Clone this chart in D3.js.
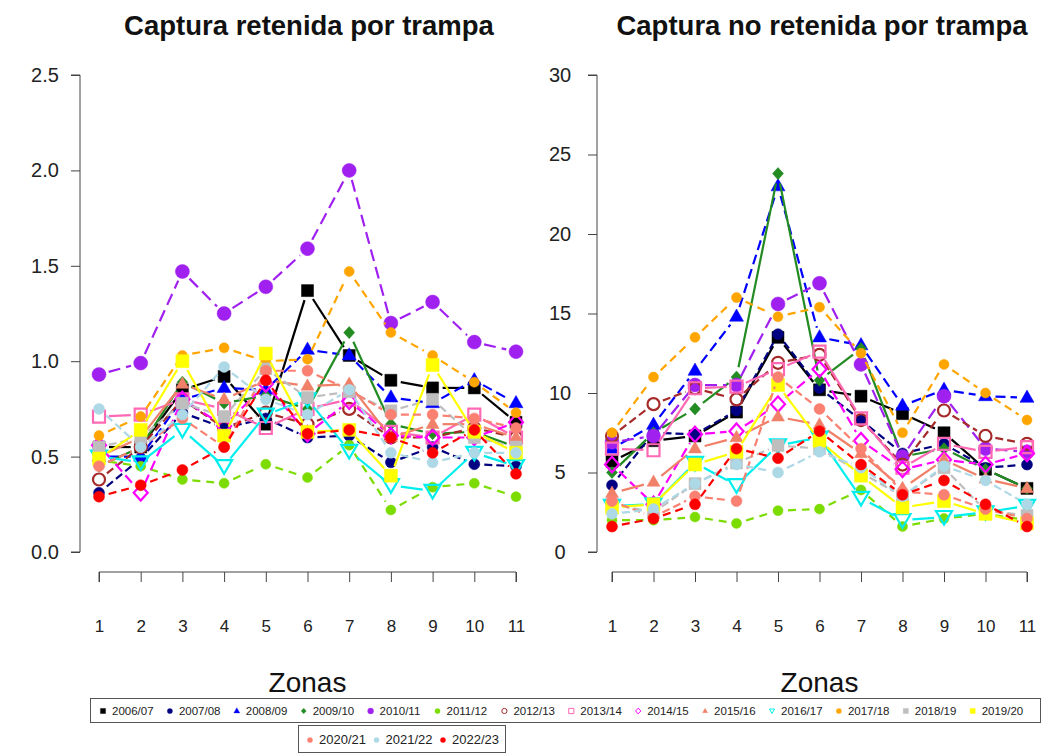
<!DOCTYPE html>
<html><head><meta charset="utf-8">
<script src="https://cdn.jsdelivr.net/npm/d3@7"></script>
<style>body{margin:0;background:#fff;} svg{display:block;font-family:"Liberation Sans",Arial,sans-serif;}</style>
</head><body>
<svg id="c" width="1044" height="755"></svg>
<script>
const zones = [1,2,3,4,5,6,7,8,9,10,11];
const seasons = ["2006/07","2007/08","2008/09","2009/10","2010/11","2011/12","2012/13","2013/14","2014/15","2015/16","2016/17","2017/18","2018/19","2019/20","2020/21","2021/22","2022/23"];
const colors = ["#000000","#000080","#0000FF","#228B22","#A020F0","#7CDC00","#A52A2A","#FF69B4","#FF00FF","#F08068","#00EEEE","#FFA500","#BEBEBE","#FFFF00","#FA8072","#ADD8E6","#FF0000"];
const shapes = ["square","circle","triangle","diamond","circle","circle","ocircle","osquare","odiamond","triangle","otriangleDown","circle","square","square","circle","circle","circle"];
const sizes = [6,5.5,7,5.5,7,5,6,6,7,6.5,8,5,6,6.5,5.5,5.5,5.5];
const dashes = ["", "8,4", "10,5", "", "12,6", "8,6", "8,4", "", "10,5", "", "", "8,5", "8,4", "", "8,4", "8,4", "8,5"];

const retenida = [
 [0.55,0.55,0.85,0.92,0.67,1.37,1.03,0.90,0.86,0.86,0.68],
 [0.31,0.49,0.73,0.65,0.70,0.60,0.61,0.47,0.55,0.46,0.45],
 [0.50,0.50,0.80,0.86,0.85,1.06,1.03,0.81,0.78,0.90,0.78],
 [0.45,0.55,0.89,0.78,0.82,0.75,1.15,0.67,0.62,0.63,0.55],
 [0.93,0.99,1.47,1.25,1.39,1.59,2.00,1.20,1.31,1.10,1.05],
 [0.48,0.45,0.38,0.36,0.46,0.39,0.56,0.22,0.34,0.36,0.29],
 [0.38,0.55,0.80,0.65,0.73,0.67,0.75,0.60,0.60,0.65,0.60],
 [0.71,0.72,0.80,0.75,0.65,0.75,0.80,0.63,0.60,0.72,0.60],
 [0.56,0.31,0.80,0.66,0.88,0.62,0.79,0.61,0.60,0.60,0.68],
 [0.50,0.60,0.88,0.80,0.90,0.87,0.88,0.60,0.67,0.67,0.60],
 [0.50,0.47,0.64,0.45,0.72,0.80,0.53,0.35,0.32,0.52,0.45],
 [0.61,0.71,1.03,1.07,1.00,1.01,1.47,1.15,1.03,0.89,0.73],
 [0.55,0.60,0.78,0.71,0.96,0.81,0.84,0.74,0.80,0.60,0.55],
 [0.49,0.64,1.00,0.61,1.04,0.63,0.64,0.40,0.98,0.63,0.52],
 [0.45,0.55,0.70,0.55,0.95,0.95,0.85,0.72,0.72,0.70,0.65],
 [0.75,0.55,0.72,0.97,0.80,0.72,0.85,0.52,0.47,0.52,0.52],
 [0.29,0.35,0.43,0.55,0.90,0.62,0.64,0.60,0.52,0.64,0.41]
];
const noRetenida = [
 [5.7,7.0,7.3,8.8,13.5,10.2,9.8,8.7,7.5,5.2,4.0],
 [4.2,7.5,7.4,8.9,13.7,10.3,8.3,6.2,6.8,5.3,5.5],
 [6.5,8.0,11.4,14.8,23.0,13.5,13.0,9.2,10.2,9.8,9.7],
 [5.0,7.5,9.0,11.0,23.8,10.8,12.8,6.0,6.5,5.2,4.0],
 [6.9,7.3,10.5,10.5,15.6,16.9,11.8,6.0,9.8,6.5,6.3],
 [2.0,2.0,2.2,1.8,2.6,2.7,3.9,1.6,2.1,2.4,2.0],
 [7.3,9.3,10.3,9.6,11.9,12.4,8.3,5.5,8.9,7.3,6.8],
 [6.5,6.4,10.3,10.4,11.5,12.6,8.4,5.3,6.8,6.3,6.6],
 [5.5,3.0,7.4,7.6,9.3,11.5,7.0,5.2,5.8,5.5,6.2],
 [3.7,4.4,6.5,7.2,8.5,8.0,6.2,4.0,5.8,4.6,4.0],
 [2.9,3.0,5.6,4.2,6.7,7.2,3.4,2.0,2.2,2.5,2.9],
 [7.5,11.0,13.5,16.0,14.8,15.4,12.5,7.5,11.8,10.0,8.3],
 [3.0,2.5,4.3,5.6,6.7,6.5,5.0,3.5,5.3,2.6,2.3],
 [2.8,3.0,5.5,6.3,10.5,7.0,4.8,2.8,3.2,2.4,1.8],
 [3.2,2.2,3.5,3.2,11.0,9.0,6.5,3.8,3.6,2.7,2.1],
 [2.4,2.7,4.3,5.5,5.0,6.3,5.3,3.5,5.4,4.5,3.0],
 [1.6,2.1,3.0,6.5,5.9,7.6,5.5,3.6,4.5,3.0,1.6]
];
const yTicksLeft = [0,0.5,1.0,1.5,2.0,2.5];
const yTicksRight = [0,5,10,15,20,25,30];

const svg = d3.select("#c");

function shapePath(type, r){
  const t = type.replace(/^o/,"");
  if(t==="square") return `M${-r},${-r}H${r}V${r}H${-r}Z`;
  if(t==="circle") return `M${r},0A${r},${r} 0 1,1 ${-r},0A${r},${r} 0 1,1 ${r},0Z`;
  if(t==="triangle") return `M0,${-r*1.1}L${r},${r*0.65}L${-r},${r*0.65}Z`;
  if(t==="triangleDown") return `M0,${r*0.95}L${r},${-r*0.75}L${-r},${-r*0.75}Z`;
  if(t==="diamond") return `M0,${-r*1.1}L${r},0L0,${r*1.1}L${-r},0Z`;
}

function panel(opt){
  const x = d3.scaleLinear().domain([1,11]).range([opt.x0, opt.x1]);
  const y = d3.scaleLinear().domain(opt.ydom).range([552,75]);
  const g = svg.append("g");
  const ya = g.append("g").attr("transform",`translate(${opt.yAxisX},0)`)
    .call(d3.axisLeft(y).tickValues(opt.yticks).tickFormat(opt.fmt).tickSize(9).tickPadding(8));
  ya.select(".domain").attr("d",`M-9,${y(opt.ydom[0])}H0V${y(opt.ydom[1])}H-9`).attr("stroke","#444");
  ya.selectAll(".tick line").attr("stroke","#444");
  ya.selectAll("text").attr("font-size",20).attr("fill","#222").attr("text-anchor","middle").attr("dx",opt.labDx);
  const xa = g.append("g").attr("transform","translate(0,572)")
    .call(d3.axisBottom(x).tickValues(zones).tickFormat(d3.format("d")).tickSize(10).tickPadding(38));
  xa.select(".domain").attr("d",`M${x(1)},10V0H${x(11)}V10`).attr("stroke","#444");
  xa.selectAll(".tick line").attr("stroke","#444");
  xa.selectAll("text").attr("font-size",17).attr("fill","#222");
  g.append("text").attr("x",opt.titleX).attr("y",35).attr("text-anchor","middle")
    .attr("font-weight","bold").attr("font-size",27.5).attr("fill","#111").text(opt.title);
  g.append("text").attr("x",(opt.x0+opt.x1)/2).attr("y",692).attr("text-anchor","middle")
    .attr("font-size",28).attr("fill","#111").text("Zonas");
  opt.data.forEach((vals,i)=>{
    const pts = vals.map((v,j)=>[x(zones[j]), y(v)]);
    const sg = g.append("g");
    const gap = 10;
    const segs = [];
    for(let j=0;j<pts.length-1;j++){
      const [ax,ay]=pts[j],[bx,by]=pts[j+1];
      const L = Math.hypot(bx-ax,by-ay);
      if(L>2*gap){
        const ux=(bx-ax)/L, uy=(by-ay)/L;
        segs.push([[ax+ux*gap,ay+uy*gap],[bx-ux*gap,by-uy*gap]]);
      }
    }
    sg.selectAll("line").data(segs).join("line")
      .attr("x1",d=>d[0][0]).attr("y1",d=>d[0][1]).attr("x2",d=>d[1][0]).attr("y2",d=>d[1][1])
      .attr("stroke",colors[i]).attr("stroke-width",2.2).attr("stroke-dasharray",dashes[i]||null);
    const open = shapes[i].startsWith("o");
    sg.selectAll("path").data(pts).join("path")
      .attr("transform",d=>`translate(${d[0]},${d[1]})`)
      .attr("d",shapePath(shapes[i],sizes[i]))
      .attr("fill",open?"none":colors[i])
      .attr("stroke",colors[i]).attr("stroke-width",open?2.2:0.5);
  });
}

panel({x0:99,x1:516,yAxisX:80,ydom:[0,2.5],yticks:yTicksLeft,fmt:d3.format(".1f"),labDx:-18,titleX:309,
  title:"Captura retenida por trampa",data:retenida});
panel({x0:612,x1:1027,yAxisX:597,ydom:[0,30],yticks:yTicksRight,fmt:d3.format("d"),labDx:-20,titleX:822,
  title:"Captura no retenida por trampa",data:noRetenida});

const lg = svg.append("g");
lg.append("rect").attr("x",90.5).attr("y",698.5).attr("width",950).attr("height",24)
  .attr("fill","#fff").attr("stroke","#555");
lg.append("rect").attr("x",298.5).attr("y",725.5).attr("width",207).attr("height",27)
  .attr("fill","#fff").attr("stroke","#555");
seasons.forEach((s,i)=>{
  let mx, my;
  if(i<14){ mx = 103 + i*66.9; my = 711; }
  else { mx = 310 + (i-14)*66.5; my = 740; }
  const open = shapes[i].startsWith("o");
  lg.append("path").attr("transform",`translate(${mx},${my})`)
    .attr("d",shapePath(shapes[i], i===4||i===2?3:2.6))
    .attr("fill",open?"none":colors[i]).attr("stroke",colors[i]).attr("stroke-width",open?1:0.3);
  lg.append("text").attr("x",mx+9).attr("y",my+4).attr("font-size",i<14?11.5:13)
    .attr("fill","#222").text(s);
});
</script>
</body></html>
